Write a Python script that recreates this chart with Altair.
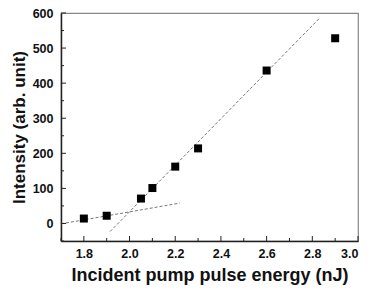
import altair as alt
import pandas as pd

energy = [1.8, 1.9, 2.05, 2.1, 2.2, 2.3, 2.6, 2.9]
intensity = [14, 22, 71, 101, 162, 214, 436, 528]

fit_low_x = [1.7, 2.22]
fit_low_y = [-1, 58]
fit_high_x = [1.915, 2.833]
fit_high_y = [-23, 586]

x_major = [1.8, 2.0, 2.2, 2.4, 2.6, 2.8, 3.0]
x_minor = [1.7, 1.9, 2.1, 2.3, 2.5, 2.7, 2.9]
y_major = [0, 100, 200, 300, 400, 500, 600]
y_minor = [-50, 50, 150, 250, 350, 450, 550]

W, H = 297, 228
font = "Liberation Sans"

xs = alt.Scale(domain=[1.7, 3.0], nice=False, zero=False)
ys = alt.Scale(domain=[-50, 600], nice=False, zero=False)

pts = pd.DataFrame({"x": energy, "y": intensity})
fits = pd.DataFrame({
    "x": fit_low_x + fit_high_x,
    "y": fit_low_y + fit_high_y,
    "g": ["low", "low", "high", "high"],
})

xaxis = alt.Axis(values=x_major, format=".1f", ticks=False, grid=False,
                 domainColor="#222", domainWidth=1.5, labelOverlap=False,
                 labelFont=font, labelFontSize=12.5, labelFontWeight="bold",
                 labelColor="#111", labelPadding=6,
                 title="Incident pump pulse energy (nJ)", titleFont=font,
                 titleFontSize=18, titleFontWeight="bold", titleColor="#111",
                 titlePadding=7)
yaxis = alt.Axis(values=y_major, ticks=False, grid=False,
                 domainColor="#222", domainWidth=1.5, labelOverlap=False,
                 labelFont=font, labelFontSize=12.5, labelFontWeight="bold",
                 labelColor="#111", labelPadding=8,
                 title="Intensity (arb. unit)", titleFont=font,
                 titleFontSize=17, titleFontWeight="bold", titleColor="#111",
                 titlePadding=4)

X = lambda f="x:Q": alt.X(f, scale=xs, axis=xaxis)
Y = lambda f="y:Q": alt.Y(f, scale=ys, axis=yaxis)

lines = alt.Chart(fits).mark_line(color="#777", strokeDash=[3, 2], strokeWidth=1).encode(
    x=X(), y=Y(), detail="g:N",
)

points = alt.Chart(pts).mark_square(color="black", size=64, opacity=1).encode(
    x=X(), y=Y(),
)

xticks_major = alt.Chart(pd.DataFrame({"x": x_major})).mark_rule(color="#222").encode(
    x=X(), y=alt.value(H), y2=alt.value(H - 5))
xticks_minor = alt.Chart(pd.DataFrame({"x": x_minor})).mark_rule(color="#222").encode(
    x=X(), y=alt.value(H), y2=alt.value(H - 3))
yticks_major = alt.Chart(pd.DataFrame({"y": y_major})).mark_rule(color="#222").encode(
    y=Y(), x=alt.value(0), x2=alt.value(5))
yticks_minor = alt.Chart(pd.DataFrame({"y": y_minor})).mark_rule(color="#222").encode(
    y=Y(), x=alt.value(0), x2=alt.value(3))

chart = alt.layer(lines, xticks_major, xticks_minor, yticks_major, yticks_minor, points).properties(
    width=W, height=H,
    autosize=alt.AutoSizeParams(type="none"),
    padding={"left": 53, "top": 5, "right": 20, "bottom": 50},
).configure_view(stroke="#888", strokeWidth=1.2)

chart.save("out.html", embed_options={"renderer": "svg", "actions": False})
